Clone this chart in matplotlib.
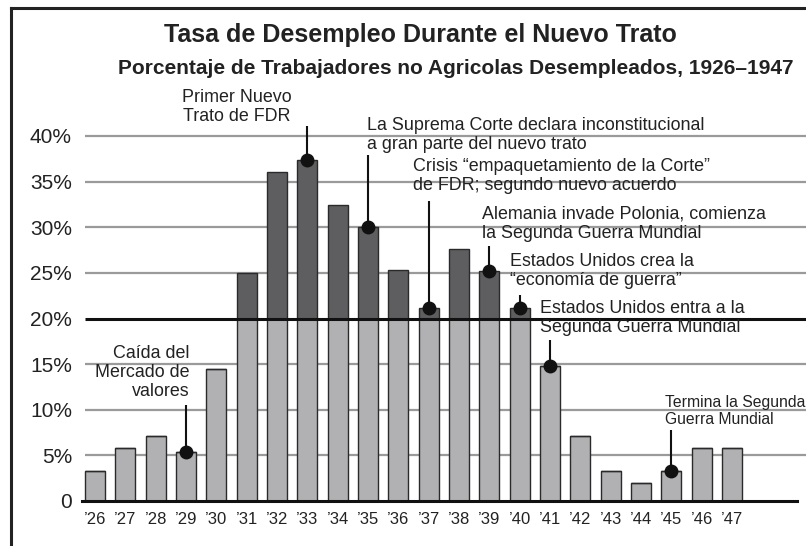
import numpy as np
import matplotlib
matplotlib.use('Agg')
import matplotlib.pyplot as plt
from matplotlib.lines import Line2D

plt.rcParams['font.family'] = ['Liberation Sans', 'DejaVu Sans']

years = ['\u201926', '\u201927', '\u201928', '\u201929', '\u201930', '\u201931', '\u201932',
         '\u201933', '\u201934', '\u201935', '\u201936', '\u201937', '\u201938', '\u201939',
         '\u201940', '\u201941', '\u201942', '\u201943', '\u201944', '\u201945', '\u201946', '\u201947']
rate = [3.3, 5.8, 7.1, 5.4, 14.5, 25.0, 36.1, 37.4, 32.4, 30.0, 25.3, 21.2,
        27.6, 25.2, 21.2, 14.8, 7.1, 3.3, 2.0, 3.3, 5.8, 5.8]
threshold = 20.0

# annotations: bar index, text, text x, text y (block centre), alignment, top of leader line, font size
notes = [
    (3, 'Ca\u00edda del\nMercado de\nvalores', 3.13, 14.1, 'right', 10.5, 12.9),
    (7, 'Primer Nuevo\nTrato de FDR', 4.68, 43.2, 'center', 41.1, 12.9),
    (9, 'La Suprema Corte declara inconstitucional\na gran parte del nuevo trato', 8.97, 40.1, 'left', 37.9, 12.9),
    (11, 'Crisis \u201cempaquetamiento de la Corte\u201d\nde FDR; segundo nuevo acuerdo', 10.48, 35.6, 'left', 32.9, 12.9),
    (13, 'Alemania invade Polonia, comienza\nla Segunda Guerra Mundial', 12.76, 30.4, 'left', 27.9, 12.9),
    (14, 'Estados Unidos crea la\n\u201ceconom\u00eda de guerra\u201d', 13.68, 25.2, 'left', 22.6, 12.9),
    (15, 'Estados Unidos entra a la\nSegunda Guerra Mundial', 14.67, 20.05, 'left', 17.6, 12.9),
    (19, 'Termina la Segunda\nGuerra Mundial', 18.8, 9.9, 'left', 7.8, 11.3),
]

light = '#b1b1b4'
dark = '#5e5e60'
edge = '#2a2a2a'

fig = plt.figure(figsize=(8.06, 5.46), dpi=100)
ax = fig.add_axes([81.7/806, 45/546, 1 - 81.7/806, 401.5/546])

x = np.arange(len(years))
vals = np.array(rate)
low = np.minimum(vals, threshold)
high = np.clip(vals - threshold, 0, None)

xmin, xmax = -0.44, (806 - 95) / 30.33
ax.set_xlim(xmin, xmax)
ax.set_ylim(0, 44)

# gridlines
for g in [5, 10, 15, 25, 30, 35, 40]:
    ax.hlines(g, -0.33, xmax, color='#9a9a9a', lw=1.6, zorder=1)

ax.bar(x, low, width=0.66, color=light, edgecolor=edge, linewidth=1.0, zorder=2)
ax.bar(x, high, bottom=low, width=0.66, color=dark, edgecolor=edge, linewidth=1.0, zorder=2)

ax.hlines(threshold, -0.33, xmax, color='#111111', lw=2.2, zorder=3)

for spine in ['top', 'right', 'left']:
    ax.spines[spine].set_visible(False)
ax.spines['bottom'].set_linewidth(2.2)
ax.spines['bottom'].set_color('#111111')
ax.spines['bottom'].set_bounds(xmin, 23.15)
ax.spines['bottom'].set_zorder(4)

ax.set_yticks([0, 5, 10, 15, 20, 25, 30, 35, 40])
ax.set_yticklabels(['0', '5%', '10%', '15%', '20%', '25%', '30%', '35%', '40%'], fontsize=15, color='#222222')
ax.set_xticks(x)
ax.set_xticklabels(years, fontsize=12, color='#222222')
ax.tick_params(axis='both', length=0)
ax.tick_params(axis='y', pad=7)
ax.tick_params(axis='x', pad=8)

for idx, txt, tx, ty, ha, ltop, fs in notes:
    ax.vlines(idx, rate[idx], ltop, color='#111111', lw=1.5, zorder=5)
    ax.plot(idx, rate[idx], 'o', color='#111111', markersize=9, zorder=6, clip_on=False)
    ax.text(tx, ty, txt, ha=ha, va='center', fontsize=fs, color='#222222',
            linespacing=1.15, multialignment=ha, zorder=6)

fig.text(420/806, 1 - 35/546, 'Tasa de Desempleo Durante el Nuevo Trato', ha='center', va='center',
         fontsize=18, fontweight='bold', color='#222222')
fig.text(456/806, 1 - 68/546, 'Porcentaje de Trabajadores no Agricolas Desempleados, 1926\u20131947',
         ha='center', va='center', fontsize=15, fontweight='bold', color='#222222')

# page frame
fig.add_artist(Line2D([11/806, 11/806], [0, 1 - 8/546], transform=fig.transFigure, color='#222222', lw=2.2))
fig.add_artist(Line2D([11/806, 1], [1 - 8/546, 1 - 8/546], transform=fig.transFigure, color='#222222', lw=2.2))

fig.savefig('out.png', dpi=100)
